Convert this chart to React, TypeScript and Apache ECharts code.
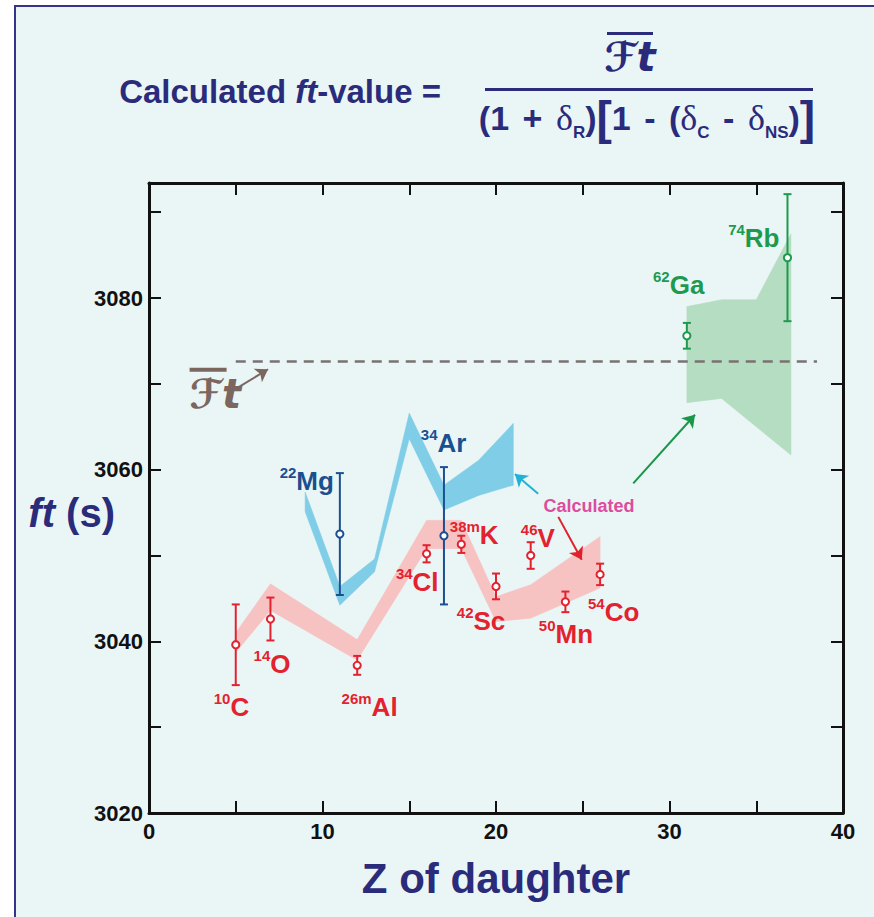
import React, { useEffect, useRef } from 'react';
import * as echarts from 'echarts';

// ---- measured ft values, plotted against Z of the daughter nucleus ----
const redZ = [5, 7, 12, 16, 18, 20, 22, 24, 26];
const redFt = [3039.6, 3042.6, 3037.2, 3050.2, 3051.3, 3046.4, 3050.0, 3044.6, 3047.8];
const redErr = [4.7, 2.5, 1.1, 1.0, 1.0, 1.5, 1.55, 1.2, 1.25];
const redMass = ['10', '14', '26m', '34', '38m', '42', '46', '50', '54'];
const redElement = ['C', 'O', 'Al', 'Cl', 'K', 'Sc', 'V', 'Mn', 'Co'];

const blueZ = [11, 17];
const blueFt = [3052.5, 3052.3];
const blueErr = [7.1, 8.0];
const blueMass = ['22', '34'];
const blueElement = ['Mg', 'Ar'];

const greenZ = [31, 36.8];
const greenFt = [3075.6, 3084.7];
const greenErr = [1.5, 7.4];
const greenMass = ['62', '74'];
const greenElement = ['Ga', 'Rb'];

// ---- calculated ft bands (lower / upper edges) ----
const redBandZ = [5, 7, 12, 16, 18, 20, 22, 26];
const redBandLo = [3038.7, 3043.6, 3037.8, 3050.8, 3050.8, 3042.3, 3042.7, 3046.2];
const redBandHi = [3041.0, 3046.7, 3040.2, 3054.1, 3054.1, 3045.2, 3046.6, 3052.2];

const blueBandZ = [9, 11, 13, 15, 17, 19, 21];
const blueBandLo = [3055.1, 3044.2, 3048.1, 3063.6, 3055.3, 3057.0, 3058.2];
const blueBandHi = [3057.4, 3046.4, 3049.6, 3066.6, 3058.2, 3061.1, 3065.4];

const greenBandZ = [31, 33, 35, 37];
const greenBandLo = [3067.8, 3068.3, 3065.0, 3061.7];
const greenBandHi = [3079.0, 3079.8, 3079.8, 3087.5];

// average corrected Ft
const ftBar = 3072.6;
const ftBarZ = [5, 38.5];

// label anchors (left edge, vertical centre) in data units
const redLabelZ = [3.73, 6.03, 11.1, 14.23, 17.34, 17.74, 21.43, 22.47, 25.3];
const redLabelFt = [3032.3, 3037.4, 3032.3, 3046.9, 3052.4, 3042.4, 3052.0, 3040.8, 3043.4];
const blueLabelZ = [7.53, 15.67];
const blueLabelFt = [3058.7, 3063.1];
const greenLabelZ = [29.05, 33.38];
const greenLabelFt = [3081.5, 3087.0];

// annotation arrows: [fromZ, fromFt, toZ, toFt]
const arrowFtBar = [5.07, 3069.5, 6.86, 3071.7];
const arrowBlue = [22.43, 3057.2, 21.09, 3059.5];
const arrowRed = [23.59, 3054.5, 24.94, 3049.5];
const arrowGreen = [27.91, 3058.4, 31.47, 3066.4];
const calculatedAt = [25.36, 3055.8];
const ftBarLabelAt = [2.34, 3069.3];

// axes
const xMin = 0, xMax = 40, xStep = 5;
const yMin = 3020, yMax = 3093.4, yStep = 10;

const FONT = '"Liberation Sans", Arial, Helvetica, sans-serif';
const NAVY = '#2B2B7B';
const RED = '#E3222F';
const BLUE = '#1B4F8F';
const GREEN = '#1E9A4F';
const BROWN = '#7B6660';

function bandSeries(name: string, zs: number[], lo: number[], hi: number[], color: string) {
  return {
    type: 'custom',
    name,
    coordinateSystem: 'cartesian2d',
    silent: true,
    clip: false,
    z: 1,
    data: zs.map((z, i) => [z, lo[i], hi[i]]),
    encode: { x: 0, y: [1, 2] },
    renderItem: (params: any, api: any) => {
      if (params.dataIndex !== 0) return null;
      const top = zs.map((z, i) => api.coord([z, hi[i]]));
      const bottom = zs.map((z, i) => api.coord([z, lo[i]])).reverse();
      return {
        type: 'polygon',
        shape: { points: top.concat(bottom) },
        style: { fill: color, stroke: color, lineWidth: 0.5 },
      };
    },
  };
}

function errorSeries(name: string, zs: number[], ft: number[], err: number[], color: string) {
  return {
    type: 'custom',
    name,
    coordinateSystem: 'cartesian2d',
    silent: true,
    clip: false,
    z: 3,
    data: zs.map((z, i) => [z, ft[i], err[i]]),
    encode: { x: 0, y: 1 },
    renderItem: (_params: any, api: any) => {
      const z = api.value(0);
      const v = api.value(1);
      const e = api.value(2);
      const c = api.coord([z, v]);
      const t = api.coord([z, v + e]);
      const b = api.coord([z, v - e]);
      const hw = 4;
      const st = { stroke: color, lineWidth: 2 };
      return {
        type: 'group',
        children: [
          { type: 'line', shape: { x1: t[0], y1: t[1], x2: b[0], y2: b[1] }, style: st },
          { type: 'line', shape: { x1: t[0] - hw, y1: t[1], x2: t[0] + hw, y2: t[1] }, style: st },
          { type: 'line', shape: { x1: b[0] - hw, y1: b[1], x2: b[0] + hw, y2: b[1] }, style: st },
          { type: 'circle', shape: { cx: c[0], cy: c[1], r: 3.6 }, style: { fill: '#ffffff', stroke: color, lineWidth: 2 } },
        ],
      };
    },
  };
}

function nuclideLabels(name: string, zs: number[], ft: number[], mass: string[], element: string[], color: string) {
  return {
    type: 'scatter',
    name,
    silent: true,
    symbolSize: 0,
    itemStyle: { opacity: 1 },
    z: 5,
    data: zs.map((z, i) => [z, ft[i]]),
    label: {
      show: true,
      position: 'right',
      distance: 0,
      formatter: (p: any) => `{s|${mass[p.dataIndex]}}{m|${element[p.dataIndex]}}`,
      rich: {
        m: { fontSize: 26, fontWeight: 'bold', color, fontFamily: FONT, lineHeight: 32 },
        s: { fontSize: 15, fontWeight: 'bold', color, fontFamily: FONT, lineHeight: 15, verticalAlign: 'top' },
      },
    },
  };
}

function arrow(a: number[], color: string) {
  return {
    coords: [[a[0], a[1]], [a[2], a[3]]],
    lineStyle: { color, width: 2, opacity: 1 },
  };
}

const axisLine = { show: true, onZero: false, lineStyle: { color: '#111', width: 3 } };
const axisTick = { show: true, inside: true, length: 12, lineStyle: { color: '#111', width: 2 } };

const option: any = {
  animation: false,
  backgroundColor: 'transparent',
  grid: { left: 149, right: 31, top: 183, bottom: 104, containLabel: false, outerBoundsMode: 'none' },
  xAxis: [
    {
      type: 'value', min: xMin, max: xMax, interval: xStep, position: 'bottom',
      axisLine, axisTick,
      axisLabel: {
        formatter: (v: number) => (v % 10 === 0 ? String(v) : ''),
        fontSize: 22, fontWeight: 'bold', color: '#111', margin: 7, fontFamily: FONT,
      },
      splitLine: { show: false },
      name: 'Z of daughter', nameLocation: 'middle', nameGap: 44, nameMoveOverlap: false,
      nameTextStyle: { fontSize: 42, fontWeight: 'bold', color: NAVY, fontFamily: FONT },
    },
    {
      type: 'value', min: xMin, max: xMax, interval: xStep, position: 'top',
      axisLine, axisTick,
      axisLabel: { show: false },
      splitLine: { show: false },
    },
  ],
  yAxis: [
    {
      type: 'value', min: yMin, max: yMax, interval: yStep, position: 'left',
      axisLine, axisTick,
      axisLabel: {
        formatter: (v: number) => (Math.abs(v % 20) < 1e-6 ? String(v) : ''),
        fontSize: 22, fontWeight: 'bold', color: '#111', margin: 6, fontFamily: FONT,
      },
      splitLine: { show: false },
      name: '{i|ft} (s)', nameLocation: 'middle', nameRotate: 0, nameGap: 34, nameMoveOverlap: false,
      nameTextStyle: {
        fontSize: 40, fontWeight: 'bold', color: NAVY, fontFamily: FONT, padding: [30, 0, 0, 0],
        rich: { i: { fontSize: 40, fontWeight: 'bold', fontStyle: 'italic', color: NAVY, fontFamily: FONT } },
      },
    },
    {
      type: 'value', min: yMin, max: yMax, interval: yStep, position: 'right',
      axisLine, axisTick,
      axisLabel: { show: false },
      splitLine: { show: false },
    },
  ],
  series: [
    bandSeries('Calculated (A)', redBandZ, redBandLo, redBandHi, '#F7C2C2'),
    bandSeries('Calculated (B)', blueBandZ, blueBandLo, blueBandHi, '#7FCDE6'),
    bandSeries('Calculated (C)', greenBandZ, greenBandLo, greenBandHi, '#B4DDC1'),
    {
      type: 'line',
      name: 'Ft average',
      silent: true,
      z: 2,
      symbol: 'none',
      data: ftBarZ.map((z) => [z, ftBar]),
      lineStyle: { color: '#7A7272', width: 2.4, type: [10, 7] },
    },
    errorSeries('measured A', redZ, redFt, redErr, RED),
    errorSeries('measured B', blueZ, blueFt, blueErr, BLUE),
    errorSeries('measured C', greenZ, greenFt, greenErr, GREEN),
    {
      type: 'lines',
      coordinateSystem: 'cartesian2d',
      silent: true,
      z: 4,
      symbol: ['none', 'arrow'],
      symbolSize: 12,
      data: [
        arrow(arrowFtBar, BROWN),
        arrow(arrowBlue, '#1FB2D6'),
        arrow(arrowRed, '#E0202A'),
        arrow(arrowGreen, '#1A9648'),
      ],
    },
    nuclideLabels('labels A', redLabelZ, redLabelFt, redMass, redElement, RED),
    nuclideLabels('labels B', blueLabelZ, blueLabelFt, blueMass, blueElement, BLUE),
    nuclideLabels('labels C', greenLabelZ, greenLabelFt, greenMass, greenElement, GREEN),
    {
      type: 'scatter',
      name: 'notes',
      silent: true,
      symbolSize: 0,
      itemStyle: { opacity: 1 },
      z: 5,
      data: [
        { value: calculatedAt, label: { position: 'inside', formatter: 'Calculated', fontSize: 18, fontWeight: 'bold', color: '#DD4C9E', fontFamily: FONT, textBorderWidth: 0 } },
        {
          value: ftBarLabelAt,
          label: {
            position: 'right', distance: 0,
            formatter: '{bar| }\n{f|ℱt}',
            rich: {
              bar: { width: 37, height: 4, lineHeight: 8, backgroundColor: BROWN },
              f: { fontSize: 40, lineHeight: 40, fontWeight: 'bold', fontStyle: 'italic', color: BROWN, fontFamily: '"DejaVu Sans", sans-serif' },
            },
          },
        },
      ],
      label: { show: true },
    },
  ],
  graphic: [
    {
      type: 'text', x: 441, y: 91, z: 10,
      style: {
        text: '{a|Calculated }{i|ft}{a|-value =}',
        align: 'right', verticalAlign: 'middle',
        rich: {
          a: { fontSize: 33, fontWeight: 'bold', fill: NAVY, fontFamily: FONT },
          i: { fontSize: 33, fontWeight: 'bold', fontStyle: 'italic', fill: NAVY, fontFamily: FONT },
        },
      },
    },
    { type: 'rect', z: 10, shape: { x: 607, y: 32, width: 46, height: 3 }, style: { fill: NAVY } },
    {
      type: 'text', x: 630, y: 57, z: 10,
      style: {
        text: 'ℱt', align: 'center', verticalAlign: 'middle',
        fontSize: 40, fontWeight: 'bold', fontStyle: 'italic', fill: NAVY, fontFamily: '"DejaVu Sans", sans-serif',
      },
    },
    { type: 'rect', z: 10, shape: { x: 485, y: 88, width: 328, height: 3 }, style: { fill: NAVY } },
    {
      type: 'text', x: 647, y: 118, z: 10,
      style: {
        text: '{b|(1}{sp| }{b|+}{sp| }{d|δ}{s|R}{b|)}{k|[}{b|1}{sp| }{b|-}{sp| }{b|(}{d|δ}{s|C}{sp| }{b|-}{sp| }{d|δ}{s|NS}{b|)}{k|]}',
        align: 'center', verticalAlign: 'middle',
        rich: {
          b: { fontSize: 34, fontWeight: 'bold', fill: NAVY, fontFamily: FONT, lineHeight: 46 },
          sp: { fontSize: 34, width: 13.5, fill: NAVY, fontFamily: FONT, lineHeight: 46 },
          d: { fontSize: 36, fill: NAVY, fontFamily: '"Liberation Serif", "Times New Roman", serif', lineHeight: 46 },
          s: { fontSize: 17, fontWeight: 'bold', fill: NAVY, fontFamily: FONT, lineHeight: 24, verticalAlign: 'bottom' },
          k: { fontSize: 46, fontWeight: 'bold', fill: NAVY, fontFamily: FONT, lineHeight: 46 },
        },
      },
    },
  ],
};

export default function App() {
  const ref = useRef<HTMLDivElement>(null);
  useEffect(() => {
    if (!ref.current) return;
    const chart = echarts.init(ref.current, null, { renderer: 'svg' });
    chart.setOption(option);
    return () => chart.dispose();
  }, []);
  return (
    <div style={{ position: 'absolute', left: 0, top: 0, width: 874, height: 917, background: '#ffffff', overflow: 'hidden' }}>
      <div
        style={{
          position: 'absolute', left: 14, top: 5, width: 862, height: 914,
          boxSizing: 'border-box', border: '2px solid #34348A', background: '#EAF6F6',
        }}
      />
      <div ref={ref} style={{ position: 'absolute', left: 0, top: 0, width: 874, height: 917 }} />
    </div>
  );
}
